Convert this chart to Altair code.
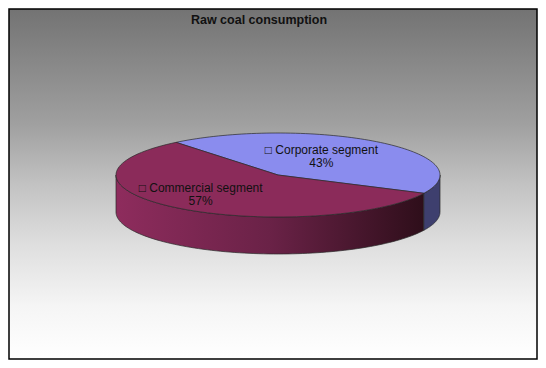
import altair as alt
import pandas as pd

# ---- data ----
categories = ["Corporate segment", "Commercial segment"]
shares = [43, 57]
top_colors = ["#8a8cee", "#8b2b5a"]

# ---- layout / style ----
W, H = 530, 352
CX, CY, RX, RY, D = 270, 167, 162, 42, 37
START = -39
N = 90

base = pd.DataFrame({"category": categories, "share": shares, "order": list(range(len(categories)))})

xs = alt.X("px:Q", scale=alt.Scale(domain=[0, W], nice=False, zero=False), axis=None)
ys = alt.Y("py:Q", scale=alt.Scale(domain=[0, H], nice=False, zero=False, reverse=True), axis=None)


def slices():
    return (
        alt.Chart(base)
        .transform_joinaggregate(total="sum(share)")
        .transform_window(cum="sum(share)", sort=[alt.SortField("order")], frame=[None, 0])
        .transform_calculate(
            t0=f"{START} + 360*(datum.cum - datum.share)/datum.total",
            t1=f"{START} + 360*datum.cum/datum.total",
        )
    )


bg_grad = {
    "gradient": "linear", "x1": 0, "y1": 0, "x2": 0, "y2": 1,
    "stops": [
        {"offset": 0, "color": "#737373"},
        {"offset": 0.33, "color": "#a0a0a0"},
        {"offset": 0.5, "color": "#c2c2c2"},
        {"offset": 0.67, "color": "#dedede"},
        {"offset": 0.85, "color": "#f5f5f5"},
        {"offset": 1, "color": "#ffffff"},
    ],
}
background = alt.Chart(pd.DataFrame({"a": [0]})).mark_rect(
    fill=bg_grad, stroke="#000000", strokeWidth=1.5
).encode(x=alt.value(1), x2=alt.value(W - 1), y=alt.value(1), y2=alt.value(H - 1))


def side():
    return (
        slices()
        .transform_calculate(a="max(datum.t0, 90)", b="min(datum.t1, 270)")
        .transform_filter("datum.a < datum.b")
        .transform_calculate(j=f"sequence(0, {2 * N + 1})")
        .transform_flatten(["j"])
        .transform_calculate(
            k=f"datum.j < {N} ? datum.j : (datum.j < {2 * N} ? {2 * N - 1} - datum.j : 0)",
            bot=f"datum.j >= {N} && datum.j < {2 * N}",
        )
        .transform_calculate(tt=f"datum.a + (datum.b - datum.a)*datum.k/{N - 1}")
        .transform_calculate(
            px=f"{CX} + {RX}*sin(datum.tt*PI/180)",
            py=f"{CY} - {RY}*cos(datum.tt*PI/180) + (datum.bot ? {D} : 0)",
        )
    )


side_grad = {
    "gradient": "linear", "x1": 0, "y1": 0, "x2": 1, "y2": 0,
    "stops": [
        {"offset": 0, "color": "#8e2c5d"},
        {"offset": 0.5, "color": "#6a2247"},
        {"offset": 1, "color": "#2e0e1a"},
    ],
}
side_comm = side().transform_filter(alt.datum.category == categories[1]).mark_line(
    fill=side_grad, stroke="#2a2a2a", strokeWidth=0.7
).encode(x=xs, y=ys, order=alt.Order("j:Q"), detail="category:N")
side_corp = side().transform_filter(alt.datum.category == categories[0]).mark_line(
    fill="#3e3f6e", stroke="#2a2a2a", strokeWidth=0.7
).encode(x=xs, y=ys, order=alt.Order("j:Q"), detail="category:N")

top = (
    slices()
    .transform_calculate(j=f"sequence(0, {N + 2})")
    .transform_flatten(["j"])
    .transform_calculate(
        tt=f"datum.t0 + (datum.t1 - datum.t0)*clamp(datum.j - 1, 0, {N - 1})/{N - 1}",
        isc=f"datum.j == 0 || datum.j == {N + 1}",
    )
    .transform_calculate(
        px=f"datum.isc ? {CX} : {CX} + {RX}*sin(datum.tt*PI/180)",
        py=f"datum.isc ? {CY} : {CY} - {RY}*cos(datum.tt*PI/180)",
    )
    .mark_line(stroke="#2a2a2a", strokeWidth=0.7, fill="#888")
    .encode(
        x=xs, y=ys, order=alt.Order("j:Q"), detail="category:N",
        fill=alt.Fill("category:N", scale=alt.Scale(domain=categories, range=top_colors), legend=None),
    )
)

lab = slices().transform_calculate(m="(datum.t0 + datum.t1)/2").transform_calculate(
    px=f"{CX} - 17 + {0.6 * RX}*sin(datum.m*PI/180)",
    py=f"{CY} - 6 - {0.57 * RY}*cos(datum.m*PI/180)",
    name="'\u25a1 ' + datum.category",
    pct="round(100*datum.share/datum.total) + '%'",
)
lab_name = lab.mark_text(font="Liberation Sans", fontSize=12, color="#111111", baseline="middle").encode(
    x=xs, y=ys, text="name:N"
)
lab_pct = lab.mark_text(font="Liberation Sans", fontSize=12, color="#111111", baseline="middle", dy=13).encode(
    x=xs, y=ys, text="pct:N"
)

title = alt.Chart(pd.DataFrame({"t": ["Raw coal consumption"]})).mark_text(
    font="Liberation Sans", fontSize=12.5, fontWeight="bold", color="#111111", baseline="alphabetic"
).encode(x=alt.value(251), y=alt.value(16), text="t:N")

chart = (
    alt.layer(background, side_comm, side_corp, top, lab_name, lab_pct, title)
    .properties(width=W, height=H, padding=0, autosize=alt.AutoSizeParams(type="fit", contains="padding"))
    .configure_view(stroke=None)
)

chart.save("out.html", embed_options={"renderer": "svg", "actions": False})
